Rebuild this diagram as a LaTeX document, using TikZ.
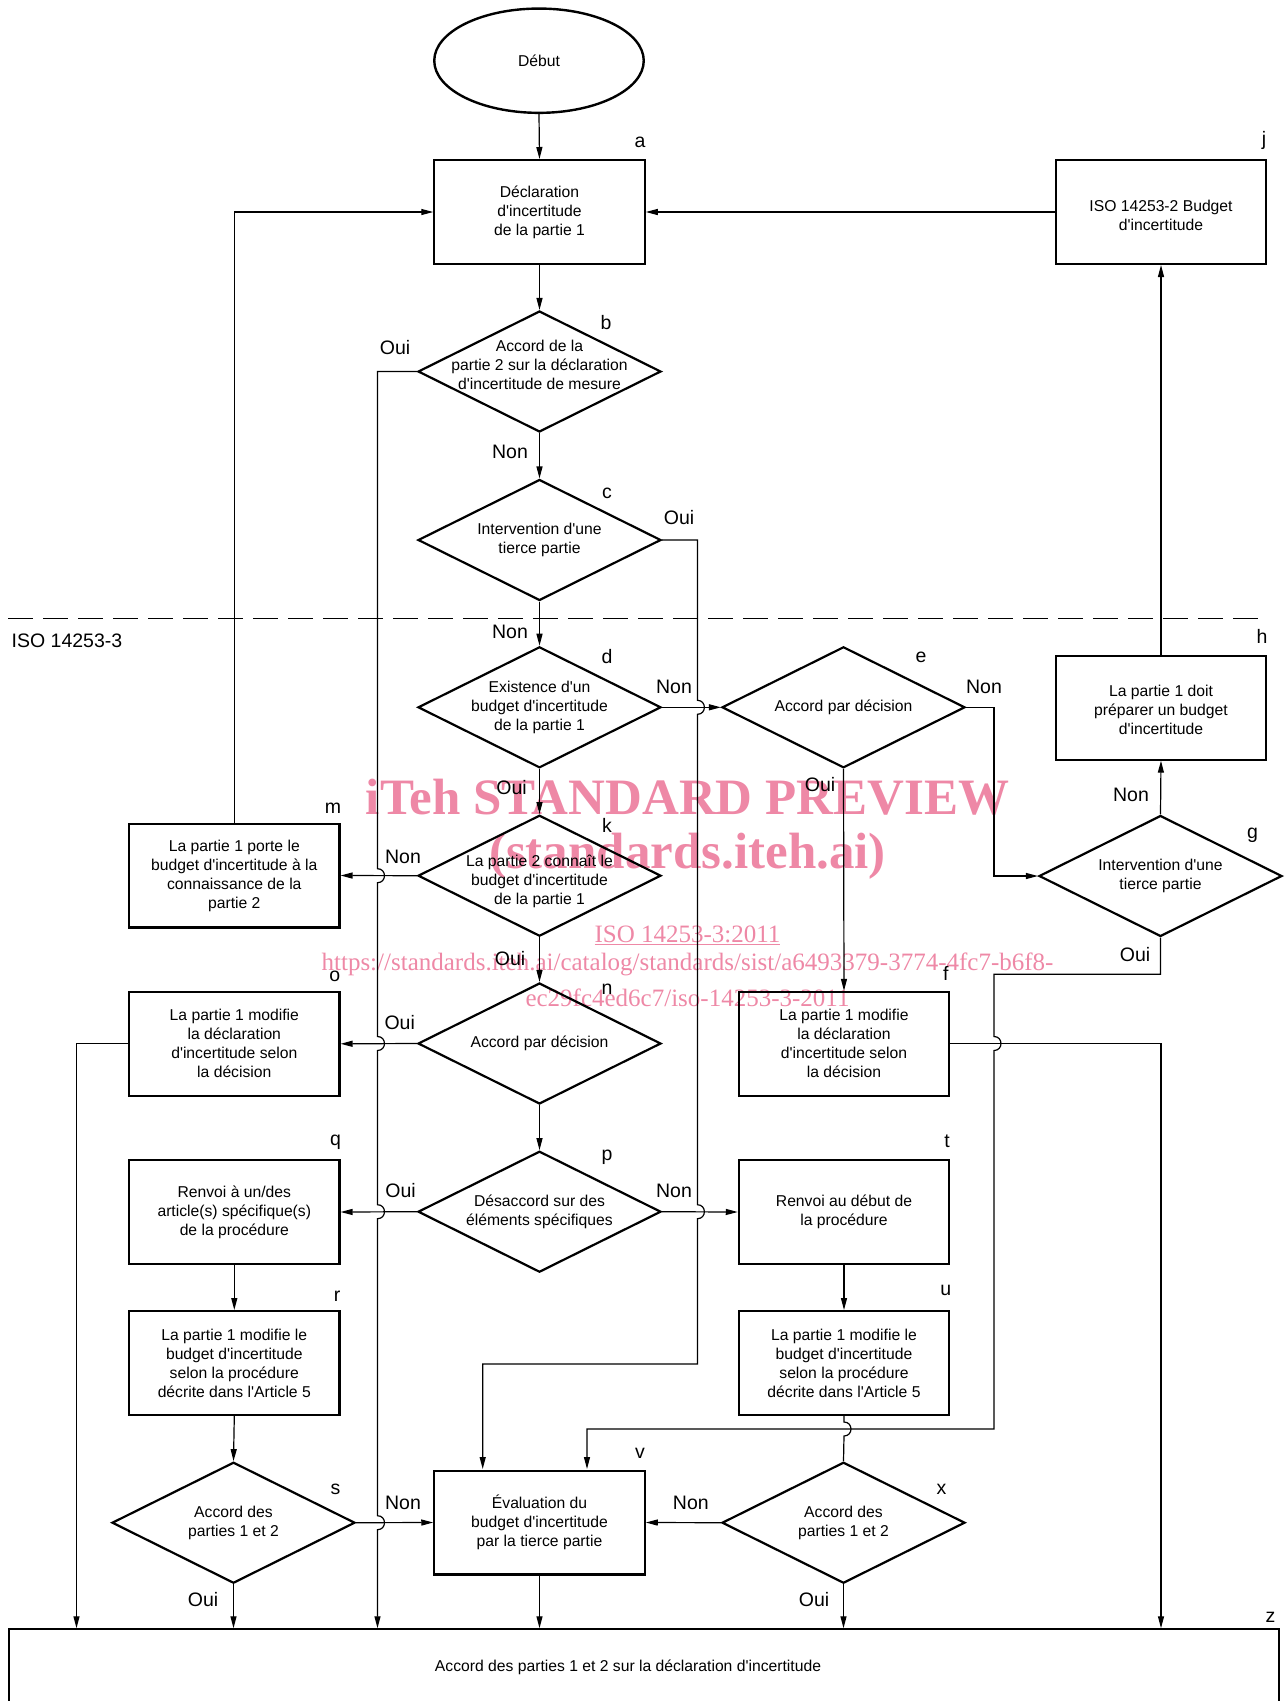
\documentclass[tikz,border=0pt]{standalone}
\usepackage{fontspec}
\setmainfont{Liberation Sans}[Ligatures=TeXOff]
\newfontfamily\wmfont{Liberation Serif}[Ligatures=TeXOff]
\usetikzlibrary{arrows.meta,shapes.geometric}
\definecolor{wm}{RGB}{238,136,166}
\begin{document}
\begin{tikzpicture}[x=1pt,y=-1pt,
  box/.style={draw, line width=2.2pt, minimum width=210.3pt, minimum height=103.8pt, inner sep=0pt},
  dia/.style={draw, diamond, line width=2.2pt, minimum width=243pt, minimum height=121pt, inner sep=0pt},
  txt/.style={align=center, font=\fontsize{15.7}{19}\selectfont, inner sep=0pt},
  lbl/.style={font=\fontsize{19.5}{22}\selectfont, inner sep=0pt},
  wmbig/.style={text=wm, font=\wmfont\bfseries\fontsize{51}{51}\selectfont, inner sep=0pt},
  wmsmall/.style={text=wm, font=\wmfont\fontsize{25}{25}\selectfont, inner sep=0pt},
  ln/.style={line width=1.2pt},
  arr/.style={line width=1.2pt, -{Triangle[length=12pt,width=6pt]}}
]
\useasboundingbox (0,0) rectangle (1285,1701);

% watermark
\node[wmbig] (w1) at (687.5,797) {iTeh STANDARD PREVIEW};
\node[wmbig] (w2) at (687.5,856.7) {(standards.iteh.ai)};
\node[wmsmall] (w3) at (687.5,935) {\underline{ISO 14253-3:2011}};
\node[wmsmall] (w4) at (687.5,964) {https://standards.iteh.ai/catalog/standards/sist/a6493379-3774-4fc7-b6f8-};
\node[wmsmall] (w5) at (687.5,998) {ec29fc4ed6c7/iso-14253-3-2011};

% track coordinates
\coordinate (L0) at (76.5,0);
\coordinate (L1) at (377.5,0);
\coordinate (R3) at (1161,0);

% nodes
\node[draw, ellipse, line width=2.4pt, minimum width=209.5pt, minimum height=104.3pt, inner sep=0pt] (start) at (539,60.7) {};
\node[txt] at (start) {Début};
\node[box] (a) at (539.5,212) {};
\node[txt] at (a) {Déclaration\\d'incertitude\\de la partie 1};
\node[box] (j) at (1161,212) {};
\node[txt] at (1161,215) {ISO 14253-2 Budget\\d'incertitude};
\node[dia] (b) at (539.5,371.5) {};
\node[txt] at (539.5,364.5) {Accord de la\\partie 2 sur la déclaration\\d'incertitude de mesure};
\node[dia] (c) at (539.5,540) {};
\node[txt] at (c) {Intervention d'une\\tierce partie};
\node[dia] (d) at (539.5,707.3) {};
\node[txt] at (d) {Existence d'un\\budget d'incertitude\\de la partie 1};
\node[dia] (e) at (843.5,707.3) {};
\node[txt] at (e) {Accord par décision};
\node[box] (h) at (1161,707.7) {};
\node[txt] at (1161,710) {La partie 1 doit\\préparer un budget\\d'incertitude};
\node[dia] (k) at (539.5,875.7) {};
\node[txt] at (539.5,881) {La partie 2 connaît le\\budget d'incertitude\\de la partie 1};
\node[box] (m) at (234.3,875.5) {};
\node[txt] at (m) {La partie 1 porte le\\budget d'incertitude à la\\connaissance de la\\partie 2};
\node[dia] (g) at (1160.5,876) {};
\node[txt] at (g) {Intervention d'une\\tierce partie};
\node[dia] (n) at (539.5,1043.5) {};
\node[txt] at (n) {Accord par décision};
\node[box] (o) at (234.3,1043.8) {};
\node[txt] at (o) {La partie 1 modifie\\la déclaration\\d'incertitude selon\\la décision};
\node[box] (f) at (844,1043.8) {};
\node[txt] at (f) {La partie 1 modifie\\la déclaration\\d'incertitude selon\\la décision};
\node[dia] (p) at (539.5,1211.7) {};
\node[txt] at (p) {Désaccord sur des\\éléments spécifiques};
\node[box] (q) at (234.3,1212) {};
\node[txt] at (q) {Renvoi à un/des\\article(s) spécifique(s)\\de la procédure};
\node[box] (t) at (844,1212) {};
\node[txt] at (t) {Renvoi au début de\\la procédure};
\node[box] (r) at (234.3,1363) {};
\node[txt] at (r) {La partie 1 modifie le\\budget d'incertitude\\selon la procédure\\décrite dans l'Article 5};
\node[box] (u) at (844,1363) {};
\node[txt] at (u) {La partie 1 modifie le\\budget d'incertitude\\selon la procédure\\décrite dans l'Article 5};
\node[dia] (s) at (233.5,1522.7) {};
\node[txt] at (s) {Accord des\\parties 1 et 2};
\node[box] (v) at (539.5,1522.5) {};
\node[txt] at (v) {Évaluation du\\budget d'incertitude\\par la tierce partie};
\node[dia] (x) at (843.5,1522.7) {};
\node[txt] at (x) {Accord des\\parties 1 et 2};
\node[draw, line width=2.2pt, minimum width=1270pt, minimum height=74.7pt, inner sep=0pt] (z) at (644,1666.7) {};
\node[txt] at (628,1667) {Accord des parties 1 et 2 sur la déclaration d'incertitude};

% dashed separator
\draw[line width=1.5pt, dash pattern=on 25pt off 10pt] (8,618.7) -- (1267,618.7);
\node[lbl, anchor=west] at (11.5,641) {ISO 14253-3};

% connectors
\draw[arr] (start.south) -- (a.north);
\draw[arr] (a.south) -- (b.north);
\draw[arr] (j.west) -- (a.east);
\draw[arr] (b.west) -- (377.5,371.5) -- (377.5,868.7)
   .. controls (386.8,868.7) and (386.8,882.7) .. (377.5,882.7) -- (377.5,1036.5)
   .. controls (386.8,1036.5) and (386.8,1050.5) .. (377.5,1050.5) -- (377.5,1204.7)
   .. controls (386.8,1204.7) and (386.8,1218.7) .. (377.5,1218.7) -- (377.5,1515.7)
   .. controls (386.8,1515.7) and (386.8,1529.7) .. (377.5,1529.7) -- (L1 |- z.north);
\draw[arr] (b.south) -- (c.north);
\draw[arr] (c.east) -- (697.4,540) -- (697.4,700.3)
   .. controls (706.7,700.3) and (706.7,714.3) .. (697.4,714.3) -- (697.4,1204.7)
   .. controls (706.7,1204.7) and (706.7,1218.7) .. (697.4,1218.7) -- (697.4,1364)
   -- (482.7,1364) -- (482.7,1469) coordinate (vin1);
\draw[arr] (c.south) -- (d.north);
\draw[arr] (d.east) -- (e.west);
\draw[arr] (e.east) -- (994,707.3) |- (g.west);
\draw[arr] (e.south) -- (f.north);
\draw[arr] (g.north) -- (h.south);
\draw[arr] (h.north) -- (j.south);
\draw[arr] (g.south) -- (1160.5,974.3) -- (994,974.3) -- (994,1036.5)
   .. controls (1003.3,1036.5) and (1003.3,1050.5) .. (994,1050.5) -- (994,1429)
   -- (587,1429) -- (587,1469) coordinate (vin2);
\draw[arr] (d.south) -- (k.north);
\draw[arr] (k.west) -- (m.east);
\draw[arr] (m.north) |- (a.west);
\draw[arr] (k.south) -- (n.north);
\draw[arr] (n.west) -- (o.east);
\draw[arr] (o.west) -| (L0 |- z.north);
\draw[arr] (n.south) -- (p.north);
\draw[arr] (p.west) -- (q.east);
\draw[arr] (p.east) -- (t.west);
\draw[arr] (f.east) -| (R3 |- z.north);
\draw[arr] (q.south) -- (r.north);
\draw[arr] (t.south) -- (u.north);
\draw[arr] (r.south) -- (s.north);
\draw[ln] (u.south) -- (844,1422)
   .. controls (853.3,1422) and (853.3,1436) .. (844,1436) -- (x.north);
\draw[arr] (s.east) -- (v.west);
\draw[arr] (x.west) -- (v.east);
\draw[arr] (s.south) -- (s.south |- z.north);
\draw[arr] (v.south) -- (v.south |- z.north);
\draw[arr] (x.south) -- (x.south |- z.north);

% labels
\node[lbl] at (640,142) {a};
\node[lbl] at (1264,140) {j};
\node[lbl] at (606,323) {b};
\node[lbl] at (395,348) {Oui};
\node[lbl] at (510,451.7) {Non};
\node[lbl] at (607,493) {c};
\node[lbl] at (679,517.7) {Oui};
\node[lbl] at (510,631.7) {Non};
\node[lbl] at (607,656.7) {d};
\node[lbl] at (674,686.7) {Non};
\node[lbl] at (921,657) {e};
\node[lbl] at (984,686.7) {Non};
\node[lbl] at (1262,636.7) {h};
\node[lbl] at (511.5,788) {Oui};
\node[lbl] at (820,785) {Oui};
\node[lbl] at (1131,795) {Non};
\node[lbl] at (333,808) {m};
\node[lbl] at (607,825) {k};
\node[lbl] at (1252.5,835) {g};
\node[lbl] at (403,856.7) {Non};
\node[lbl] at (510,958.3) {Oui};
\node[lbl] at (1135,954.3) {Oui};
\node[lbl] at (334.7,976.7) {o};
\node[lbl] at (945.7,973) {f};
\node[lbl] at (607,989.3) {n};
\node[lbl] at (399.7,1022.3) {Oui};
\node[lbl] at (335.5,1142.7) {q};
\node[lbl] at (947,1141.7) {t};
\node[lbl] at (607,1157.7) {p};
\node[lbl] at (400.5,1191) {Oui};
\node[lbl] at (674,1191) {Non};
\node[lbl] at (337,1296.7) {r};
\node[lbl] at (945.7,1290) {u};
\node[lbl] at (640,1453.3) {v};
\node[lbl] at (335.5,1489.3) {s};
\node[lbl] at (941.6,1489.3) {x};
\node[lbl] at (403,1502.7) {Non};
\node[lbl] at (690.8,1502.7) {Non};
\node[lbl] at (203,1599.3) {Oui};
\node[lbl] at (814,1600) {Oui};
\node[lbl] at (1270.6,1617.7) {z};
\end{tikzpicture}
\end{document}
